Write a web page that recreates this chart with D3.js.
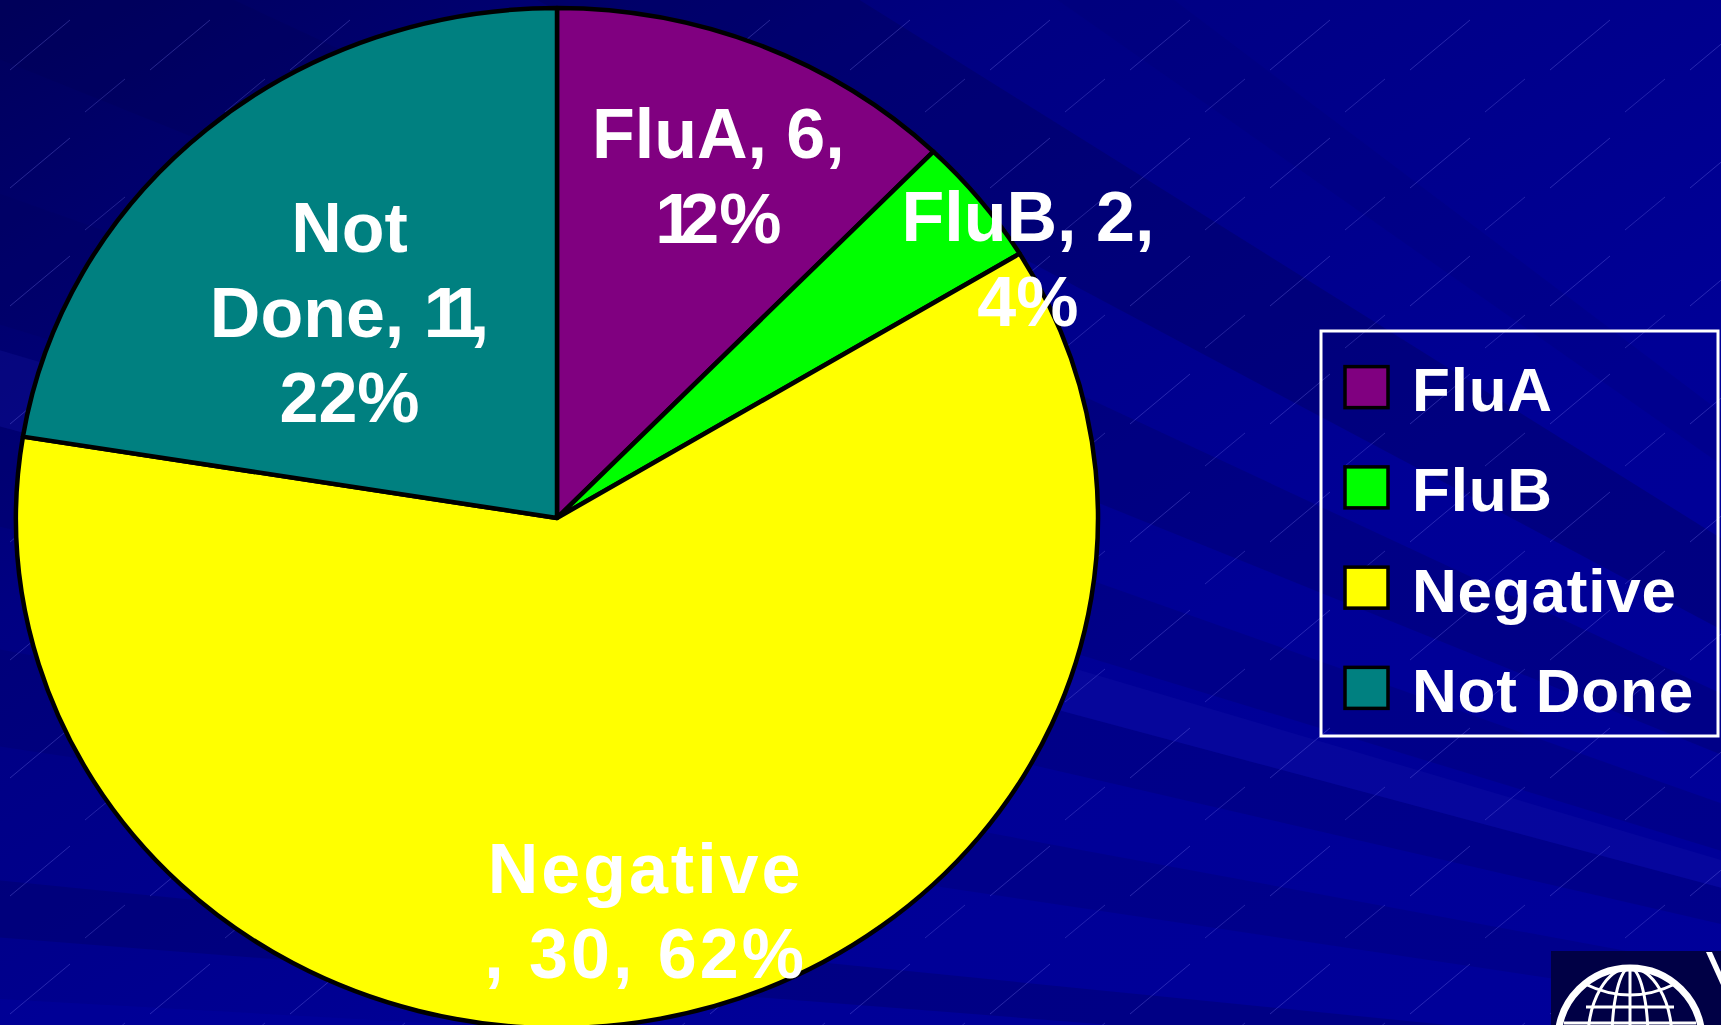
<!DOCTYPE html>
<html>
<head>
<meta charset="utf-8">
<script src="https://cdn.jsdelivr.net/npm/d3@7"></script>
<style>
  html, body { margin: 0; padding: 0; background: #000090; overflow: hidden; }
  svg { display: block; }
</style>
</head>
<body>
<script>
// ---- data ----
const categories = ["FluA", "FluB", "Negative", "Not Done"];
const counts = [6, 2, 30, 11];
const percentLabels = ["12%", "4%", "62%", "22%"];
const sliceLabels = [
  ["FluA, 6,", "12%"],
  ["FluB, 2,", "4%"],
  ["Negative", ", 30, 62%"],
  ["Not", "Done, 11,", "22%"]
];
const colors = ["#800080", "#00ff00", "#ffff00", "#008080"];

// ---- layout ----
const W = 1721, H = 1025;
const cx = 557, cy = 518, rx = 541, ry = 510;
const labelLayout = [
  { dA: 1.9, f: 0.735, ls: 0 },
  { dA: 8.2, f: 1.009, ls: 0 },
  { dA: -1.0, f: 0.786, ls: 3 },
  { dA: -3.1, f: 0.557, ls: 0 }
];

const svg = d3.select("body").append("svg").attr("width", W).attr("height", H);
const defs = svg.append("defs");

// background gradient
const bg = defs.append("linearGradient").attr("id", "bg")
  .attr("x1", 0).attr("y1", 0).attr("x2", 1).attr("y2", 1);
bg.append("stop").attr("offset", "0%").attr("stop-color", "#00005c");
bg.append("stop").attr("offset", "30%").attr("stop-color", "#000082");
bg.append("stop").attr("offset", "65%").attr("stop-color", "#000096");
bg.append("stop").attr("offset", "100%").attr("stop-color", "#00009a");
svg.append("rect").attr("width", W).attr("height", H).attr("fill", "url(#bg)");

// light rays converging to the right
const V = [2700, 1150];
const rays = [
  { a0: -152, a1: -148, c: "#000050", o: 0.3 },
  { a0: -158, a1: -155, c: "#000055", o: 0.25 },
  { a0: -163, a1: -160.5, c: "#00005a", o: 0.22 },
  { a0: -167, a1: -165, c: "#000060", o: 0.25 },
  { a0: -171.5, a1: -169.5, c: "#00005a", o: 0.2 },
  { a0: -175.5, a1: -174.3, c: "#000060", o: 0.35 },
  { a0: -165, a1: -163.5, c: "#2020b0", o: 0.2 },
  { a0: -177.5, a1: -176.8, c: "#0000a8", o: 0.3 },
  { a0: -145, a1: -143, c: "#000070", o: 0.2 }
];
const rayG = svg.append("g");
rays.forEach(r => {
  const L = 4000;
  const p = [V,
    [V[0] + L * Math.cos(r.a0 * Math.PI / 180), V[1] + L * Math.sin(r.a0 * Math.PI / 180)],
    [V[0] + L * Math.cos(r.a1 * Math.PI / 180), V[1] + L * Math.sin(r.a1 * Math.PI / 180)]];
  rayG.append("path").attr("d", "M" + p.map(q => q.join(",")).join("L") + "Z")
    .attr("fill", r.c).attr("opacity", r.o);
});

// thin diagonal texture lines
const pat = defs.append("pattern").attr("id", "rain").attr("patternUnits", "userSpaceOnUse")
  .attr("width", 140).attr("height", 118);
pat.append("line").attr("x1", 10).attr("y1", 70).attr("x2", 70).attr("y2", 20)
  .attr("stroke", "#8a8aff").attr("stroke-width", 0.8).attr("opacity", 0.35);
pat.append("line").attr("x1", 85).attr("y1", 112).attr("x2", 125).attr("y2", 79)
  .attr("stroke", "#8a8aff").attr("stroke-width", 0.8).attr("opacity", 0.3);
svg.append("rect").attr("width", W).attr("height", H).attr("fill", "url(#rain)");

// ---- pie ----
const pie = d3.pie().sort(null).value(d => d);
const arcs = pie(counts);
const arc = d3.arc().innerRadius(0).outerRadius(ry);

const pg = svg.append("g")
  .attr("transform", `translate(${cx},${cy}) scale(${rx / ry},1)`);
pg.selectAll("path").data(arcs).join("path")
  .attr("d", arc)
  .attr("fill", (d, i) => colors[i])
  .attr("stroke", "#000")
  .attr("stroke-width", 4.5)
  .attr("stroke-linejoin", "round")
  .attr("vector-effect", "non-scaling-stroke");

// slice labels
const fs = 70, lh = 85;
const lg = svg.append("g")
  .attr("font-family", "'Liberation Sans', Arial, sans-serif")
  .attr("font-weight", "bold")
  .attr("font-size", fs)
  .attr("fill", "#fff")
  .attr("text-anchor", "middle");

function addLine(textSel, x, y, str, ls) {
  const line = textSel.append("tspan").attr("x", x).attr("y", y).attr("letter-spacing", ls);
  // tighten the digit "1" the way the original rendering does
  const parts = str.split(/(1)/).filter(s => s.length);
  parts.forEach(p => {
    const s = line.append("tspan").text(p);
    if (p === "1") s.attr("letter-spacing", -14);
  });
}

arcs.forEach((d, i) => {
  const L = labelLayout[i];
  const a = (d.startAngle + d.endAngle) / 2 + L.dA * Math.PI / 180;
  const x = cx + rx * L.f * Math.sin(a);
  const y = cy - ry * L.f * Math.cos(a);
  const lines = sliceLabels[i];
  const y0 = y - (lines.length - 1) * lh / 2 + fs * 0.36;
  lines.forEach((ln, k) => {
    const t = lg.append("text");
    addLine(t, x, y0 + k * lh, ln, L.ls);
  });
});

// ---- legend ----
const leg = svg.append("g");
leg.append("rect").attr("x", 1321).attr("y", 331).attr("width", 397).attr("height", 405)
  .attr("fill", "none").attr("stroke", "#fff").attr("stroke-width", 3);
const legY = d3.scaleBand().domain(categories).range([331, 736]).paddingOuter(0.02);
categories.forEach((c, i) => {
  const yc = legY(c) + legY.bandwidth() / 2 + 4;
  leg.append("rect").attr("x", 1345).attr("y", yc - 20.5).attr("width", 43).attr("height", 41)
    .attr("fill", colors[i]).attr("stroke", "#000").attr("stroke-width", 3.5);
  leg.append("text").attr("x", 1412).attr("y", yc + 24)
    .attr("font-family", "'Liberation Sans', Arial, sans-serif")
    .attr("font-weight", "bold").attr("font-size", 62).attr("letter-spacing", 0.8)
    .attr("fill", "#fff").text(c);
});

// ---- logo (bottom right, partially visible) ----
const logo = svg.append("g");
logo.append("rect").attr("x", 1551).attr("y", 951).attr("width", 170).attr("height", 74).attr("fill", "#000045");
const gx = 1630, gy = 1040, gr = 72;
logo.append("circle").attr("cx", gx).attr("cy", gy).attr("r", gr)
  .attr("fill", "none").attr("stroke", "#fff").attr("stroke-width", 7);
logo.append("line").attr("x1", gx).attr("y1", gy - gr).attr("x2", gx).attr("y2", 1025)
  .attr("stroke", "#fff").attr("stroke-width", 3);
[[1007, 44], [1023, 66]].forEach(([yy, hw]) => {
  logo.append("line").attr("x1", gx - hw).attr("y1", yy).attr("x2", gx + hw).attr("y2", yy)
    .attr("stroke", "#fff").attr("stroke-width", 3);
});
[18, 42].forEach(erx => {
  logo.append("ellipse").attr("cx", gx).attr("cy", gy).attr("rx", erx).attr("ry", gr)
    .attr("fill", "none").attr("stroke", "#fff").attr("stroke-width", 3);
});
logo.append("path").attr("d", `M${gx - 45},${gy - 56} Q${gx},${gy - 34} ${gx + 45},${gy - 56}`)
  .attr("fill", "none").attr("stroke", "#fff").attr("stroke-width", 3);
logo.append("path").attr("d", "M1706,952 L1721,985 L1721,952 Z").attr("fill", "#fff");
logo.append("path").attr("d", "M1712,952 L1721,972 L1721,952 Z").attr("fill", "#000045");
</script>
</body>
</html>
